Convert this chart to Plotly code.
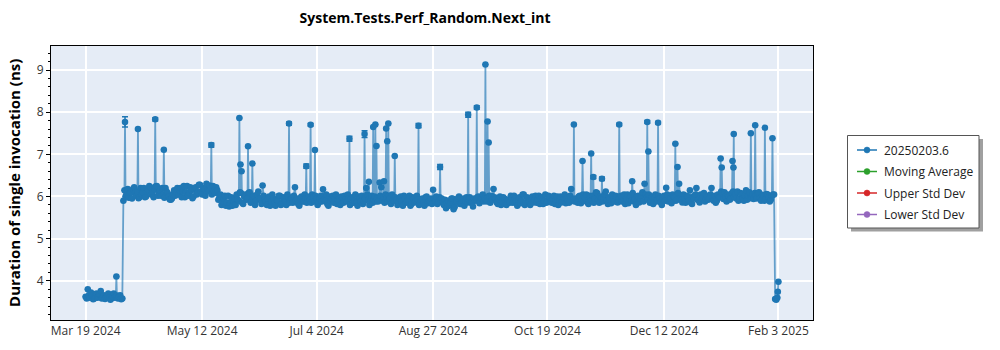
import pandas as pd
import plotly.graph_objects as go

# ---------------- data ----------------
start_date = "2024-03-19"
end_date = "2025-02-03"

# two runs per day: run A (midnight) and run B (noon)
a_mar = [3.62, 3.80, 3.60, 3.66, 3.58, 3.70, 3.62, 3.76, 3.60, 3.57, 3.64, 3.60, 3.58]
b_mar = [3.58, 3.65, 3.72, 3.56, 3.64, 3.60, 3.68, 3.58, 3.66, 3.62, 3.70, 3.55, 3.63]
a_apr = [3.70, 3.62, 3.58, 3.66, 3.58, 6.15, 6.05, 5.97, 6.10, 6.18, 6.08, 6.12, 5.98, 6.05, 6.20,
         6.00, 6.15, 6.22, 6.10, 6.18, 6.25, 6.10, 6.02, 6.05, 6.20, 6.08, 5.93, 5.95, 6.15, 6.10]
b_apr = [3.60, 3.65, 3.62, 3.56, 5.90, 6.00, 6.18, 6.08, 5.95, 6.22, 6.02, 5.96, 6.20, 6.10, 5.98,
         6.12, 6.25, 6.05, 5.98, 6.24, 6.02, 6.15, 6.20, 5.97, 6.12, 6.00, 5.92, 6.05, 6.02, 6.20]
a_may = [6.05, 6.20, 6.12, 5.98, 6.25, 6.08, 6.15, 6.00, 6.22, 6.10, 6.28, 6.05, 6.18, 6.30, 6.12,
         6.20, 6.25, 6.08, 6.15, 5.98, 5.80, 5.95, 5.78, 6.02, 5.85, 5.78, 5.95, 6.05, 5.90, 6.08, 5.82]
b_may = [6.15, 5.98, 6.25, 6.10, 6.02, 6.22, 5.96, 6.18, 6.05, 6.28, 6.12, 6.20, 6.02, 6.15, 6.26,
         6.05, 6.12, 6.22, 5.92, 6.05, 5.88, 6.02, 5.85, 5.76, 5.98, 5.90, 5.80, 5.92, 6.10, 5.85, 6.00]
a_jun = [6.05, 5.95, 6.10, 5.88, 6.02, 5.90, 6.12, 5.95, 6.26, 5.92, 5.80, 6.00, 5.88, 5.95, 5.78,
         5.90, 6.02, 5.85, 5.95, 5.80, 5.98, 5.92, 5.85, 6.22, 5.95, 5.78, 6.00, 5.88, 5.96, 5.95]
b_jun = [5.92, 6.08, 5.85, 6.00, 5.80, 6.05, 5.95, 5.82, 6.02, 5.88, 5.95, 5.78, 6.05, 5.85, 5.92,
         6.02, 5.80, 5.98, 5.88, 6.05, 5.85, 5.95, 6.02, 5.90, 5.82, 5.96, 5.88, 6.05, 5.85, 6.00]
a_jul = [5.92, 6.05, 5.88, 5.95, 5.85, 6.02, 6.17, 5.90, 5.82, 6.00, 5.95, 5.85, 6.05, 5.92, 5.80,
         5.98, 6.02, 5.88, 5.96, 5.95, 5.85, 6.05, 5.78, 5.95, 6.02, 5.88, 6.20, 5.92, 5.90, 5.85, 6.00]
b_jul = [5.85, 5.98, 6.02, 5.80, 5.95, 5.88, 5.92, 6.05, 5.78, 5.90, 6.02, 5.96, 5.82, 5.88, 6.00,
         5.85, 5.92, 6.05, 5.80, 5.98, 5.90, 5.85, 6.00, 5.88, 5.82, 5.95, 6.05, 5.80, 6.02, 5.92, 5.88]
a_aug = [5.95, 5.92, 6.22, 5.98, 6.05, 5.88, 5.95, 6.05, 5.90, 5.92, 5.85, 6.00, 5.78, 5.95, 5.88,
         6.02, 5.82, 5.95, 5.90, 5.92, 5.85, 5.95, 5.78, 6.00, 5.88, 5.95, 6.16, 5.90, 5.82, 5.98, 5.95]
b_aug = [5.88, 6.02, 5.90, 5.85, 5.96, 6.02, 5.82, 5.92, 5.98, 5.80, 5.95, 5.88, 6.02, 5.85, 5.92,
         5.78, 5.98, 5.86, 6.02, 5.80, 5.92, 5.86, 5.98, 5.84, 5.90, 5.82, 5.95, 6.00, 5.88, 5.92, 5.85]
a_sep = [5.80, 5.72, 5.90, 5.85, 5.95, 5.75, 5.88, 6.00, 5.82, 5.95, 5.90, 5.86, 5.98, 5.85, 5.95,
         5.92, 6.00, 5.90, 6.05, 5.96, 5.88, 6.02, 6.02, 6.18, 5.95, 5.82, 6.00, 5.88, 5.95, 5.80]
b_sep = [5.92, 5.86, 5.78, 5.95, 5.70, 5.88, 5.96, 5.82, 5.90, 5.78, 5.98, 5.92, 5.85, 5.76, 5.90,
         5.98, 5.84, 5.95, 5.88, 5.92, 6.00, 5.85, 5.92, 5.98, 5.86, 5.94, 5.80, 5.98, 5.85, 5.92]
a_oct = [5.92, 6.02, 5.85, 5.95, 5.78, 5.98, 5.90, 6.05, 5.85, 5.95, 5.80, 6.00, 5.92, 5.85, 6.02,
         5.95, 5.82, 6.05, 5.90, 5.98, 5.85, 6.02, 5.92, 5.80, 6.00, 5.88, 6.05, 5.95, 5.85, 6.18, 5.92]
b_oct = [5.85, 5.96, 6.02, 5.88, 5.92, 5.84, 6.05, 5.80, 5.98, 5.88, 5.95, 5.86, 6.02, 5.92, 5.82,
         5.98, 5.90, 5.85, 6.02, 5.88, 5.95, 5.82, 6.00, 5.92, 5.86, 5.98, 5.84, 5.90, 6.02, 5.95, 5.88]
a_nov = [5.95, 5.85, 6.02, 5.92, 5.90, 6.05, 5.82, 5.98, 6.02, 5.95, 6.08, 5.85, 5.96, 5.98, 6.12,
         5.82, 5.95, 6.05, 5.88, 6.00, 5.92, 6.02, 5.90, 5.82, 6.05, 5.95, 5.90, 5.88, 5.80, 6.02]
b_nov = [5.88, 6.00, 5.84, 6.05, 5.96, 5.86, 6.02, 5.90, 5.85, 6.10, 5.92, 6.00, 5.88, 6.05, 5.90,
         5.98, 5.84, 5.92, 6.02, 5.86, 5.98, 5.88, 6.05, 5.95, 5.84, 6.00, 6.08, 5.94, 6.00, 5.86]
a_dec = [5.95, 6.10, 6.30, 5.98, 6.05, 5.90, 5.82, 6.05, 5.92, 5.95, 5.80, 6.02, 6.21, 5.88, 5.95,
         6.05, 5.98, 5.92, 6.30, 5.92, 6.05, 5.85, 6.00, 6.15, 5.82, 5.95, 6.20, 5.92, 6.05, 5.98, 5.88]
b_dec = [6.02, 5.88, 6.05, 5.92, 5.85, 6.00, 5.95, 5.88, 6.02, 5.86, 5.98, 5.90, 6.05, 5.95, 5.84,
         6.00, 5.90, 6.08, 5.96, 5.86, 5.94, 6.02, 5.90, 5.85, 6.00, 6.05, 5.92, 5.86, 5.96, 6.08, 5.95]
a_jan = [6.02, 5.95, 6.20, 5.90, 5.85, 6.05, 5.98, 6.08, 6.10, 5.88, 6.00, 5.95, 6.12, 6.05, 6.12,
         5.95, 6.05, 5.90, 6.15, 6.02, 5.96, 6.05, 6.08, 5.95, 6.10, 5.90, 6.00, 5.94, 6.05, 5.88, 6.02]
b_jan = [5.92, 6.05, 5.96, 6.02, 5.90, 5.98, 6.12, 5.94, 6.00, 6.05, 5.92, 6.08, 6.00, 5.95, 5.90,
         6.08, 5.96, 6.02, 5.92, 6.10, 6.00, 5.94, 6.02, 6.08, 5.96, 6.04, 5.90, 6.06, 5.98, 5.92, 6.05]
a_feb = [6.05, 3.55, 3.98]
b_feb = [3.57, 3.60]

# extra runs (outliers between the regular runs)
extra_dates = [
    "2024-04-02 06:00", "2024-04-06 06:00", "2024-04-12 06:00", "2024-04-20 06:00", "2024-04-24 06:00",
    "2024-05-16 06:00", "2024-05-29 06:00", "2024-05-29 18:00", "2024-05-30 06:00", "2024-06-02 06:00",
    "2024-06-04 06:00", "2024-06-21 06:00", "2024-06-29 06:00", "2024-07-01 06:00", "2024-07-03 06:00",
    "2024-07-19 06:00", "2024-07-26 06:00", "2024-07-28 06:00", "2024-07-30 06:00", "2024-07-31 06:00",
    "2024-07-31 18:00", "2024-08-02 06:00", "2024-08-04 06:00", "2024-08-05 06:00", "2024-08-05 18:00",
    "2024-08-06 06:00", "2024-08-09 06:00", "2024-08-20 06:00", "2024-08-30 06:00", "2024-09-12 06:00",
    "2024-09-16 06:00", "2024-09-20 06:00", "2024-09-21 06:00", "2024-09-21 18:00", "2024-10-31 06:00",
    "2024-11-04 06:00", "2024-11-08 06:00", "2024-11-09 06:00", "2024-11-13 06:00", "2024-11-21 06:00",
    "2024-11-27 06:00", "2024-12-04 06:00", "2024-12-04 18:00", "2024-12-09 06:00", "2024-12-17 06:00",
    "2024-12-18 06:00", "2025-01-07 06:00", "2025-01-07 18:00", "2025-01-12 18:00", "2025-01-13 04:00",
    "2025-01-13 08:00", "2025-01-21 06:00", "2025-01-23 06:00", "2025-01-27 18:00", "2025-01-31 06:00",
    "2025-02-02 18:00",
]
extra_values = [
    4.10, 7.77, 7.60, 7.83, 7.11,
    7.22, 7.86, 6.76, 6.60, 7.19,
    6.78, 7.73, 6.72, 7.70, 7.10,
    7.37, 7.48, 6.35, 7.65, 7.71,
    7.20, 6.33, 6.36, 7.61, 7.31,
    7.73, 6.96, 7.68, 6.70, 7.94,
    8.11, 9.13, 7.78, 7.28, 7.71,
    6.84, 7.02, 6.46, 6.42, 7.71,
    6.36, 7.77, 7.07, 7.75, 7.25,
    6.70, 6.90, 6.69, 6.84, 6.69,
    7.48, 7.50, 7.69, 7.63, 7.38,
    3.74,
]

# error bars on the runs that show them
err_dates = ["2024-04-06 06:00", "2024-04-20 06:00", "2024-05-16 06:00", "2024-06-21 06:00",
             "2024-06-29 06:00", "2024-07-01 06:00", "2024-07-19 06:00", "2024-07-26 06:00",
             "2024-08-20 06:00", "2024-08-30 06:00", "2024-09-12 06:00", "2024-09-16 06:00",
             "2024-11-09 06:00", "2024-11-13 06:00", "2024-11-21 06:00", "2024-12-04 06:00",
             "2024-12-09 06:00"]
err_values = [0.12, 0.04, 0.05, 0.04, 0.05, 0.03, 0.06, 0.08, 0.05, 0.06, 0.06, 0.04,
              0.04, 0.04, 0.03, 0.03, 0.03]

tick_dates = ["2024-03-19", "2024-05-12", "2024-07-04", "2024-08-27", "2024-10-19", "2024-12-12", "2025-02-03"]
tick_labels = ["Mar 19 2024", "May 12 2024", "Jul 4 2024", "Aug 27 2024", "Oct 19 2024", "Dec 12 2024", "Feb 3 2025"]

series_name = "20250203.6"
legend_names = ["20250203.6", "Moving Average", "Upper Std Dev", "Lower Std Dev"]
legend_colors = ["#1f77b4", "#2ca02c", "#d62728", "#9467bd"]

# ---------------- build ----------------
a_vals = a_mar + a_apr + a_may + a_jun + a_jul + a_aug + a_sep + a_oct + a_nov + a_dec + a_jan + a_feb
b_vals = b_mar + b_apr + b_may + b_jun + b_jul + b_aug + b_sep + b_oct + b_nov + b_dec + b_jan + b_feb
a_dates = pd.date_range(start_date, end_date, freq="D")
b_dates = pd.date_range(start_date, end_date, freq="D")[:-1] + pd.Timedelta(hours=12)

df = pd.concat([
    pd.DataFrame({"x": a_dates, "y": a_vals}),
    pd.DataFrame({"x": b_dates, "y": b_vals}),
    pd.DataFrame({"x": pd.to_datetime(extra_dates), "y": extra_values}),
]).sort_values("x").reset_index(drop=True)
err_map = dict(zip(pd.to_datetime(err_dates), err_values))
df["e"] = [err_map.get(d, None) for d in df["x"]]

BLUE = "#1f77b4"
FONT = "Open Sans"

# plot area in pixels (for placing the hand-built legend box)
PL, PR, PT, PB = 51, 813, 46, 320


def px(x):
    return (x - PL) / (PR - PL)


def py(y):
    return (PB - y) / (PB - PT)


fig = go.Figure()
fig.add_trace(go.Scatter(
    x=df["x"], y=df["y"], mode="lines+markers", name=series_name, showlegend=False,
    line=dict(color="rgba(31,119,180,0.65)", width=1.8),
    marker=dict(color=BLUE, size=6.5),
    error_y=dict(type="data", array=df["e"].tolist(), color=BLUE, thickness=1.5, width=3, visible=True),
))

# legend box (drawn by hand to match the reference layout)
fig.add_shape(type="rect", xref="paper", yref="paper", x0=px(851), x1=px(983), y0=py(231.5), y1=py(139),
              fillcolor="#a0a0a0", line=dict(width=0), layer="above")
fig.add_shape(type="rect", xref="paper", yref="paper", x0=px(847.5), x1=px(979), y0=py(228), y1=py(135.5),
              fillcolor="white", line=dict(color="#555", width=1), layer="above")
item_y = [150, 171.5, 193, 214.5]
for name, color, yy in zip(legend_names, legend_colors, item_y):
    fig.add_shape(type="line", xref="paper", yref="paper", x0=px(857), x1=px(877), y0=py(yy), y1=py(yy),
                  line=dict(color=color, width=1.5), layer="above")
    fig.add_shape(type="circle", xref="paper", yref="paper", x0=px(864), x1=px(870),
                  y0=py(yy + 3), y1=py(yy - 3), fillcolor=color, line=dict(color=color, width=0.5),
                  layer="above")
    fig.add_annotation(text=name, xref="paper", yref="paper", x=px(882), y=py(yy), xanchor="left",
                       yanchor="middle", showarrow=False, font=dict(size=12, color="#222"))

fig.update_layout(
    width=1000, height=350,
    margin=dict(l=PL, r=1000 - PR, t=PT, b=350 - PB),
    paper_bgcolor="white", plot_bgcolor="#E5ECF6",
    font=dict(family=FONT, size=12, color="#333"),
    title=dict(text="<b>System.Tests.Perf_Random.Next_int</b>", x=0.425, xanchor="center",
               y=0.948, yanchor="middle", font=dict(size=14, color="black")),
    showlegend=False,
)
fig.update_xaxes(
    range=["2024-03-02 23:00", "2025-02-19 01:00"], tickvals=tick_dates, ticktext=tick_labels,
    showgrid=True, gridcolor="white", gridwidth=1.5, showline=True, linecolor="black", linewidth=1,
    mirror=True, ticks="", zeroline=False,
)
fig.update_yaxes(
    range=[3.07, 9.57], dtick=1, showgrid=True, gridcolor="white", gridwidth=1.5,
    showline=True, linecolor="black", linewidth=1, mirror=True, ticks="outside", ticklen=4,
    tickcolor="black", zeroline=False,
    minor=dict(dtick=0.2, ticks="outside", ticklen=2, tickcolor="black", showgrid=False),
)
fig.add_annotation(text="<b>Duration of single invocation (ns)</b>", textangle=-90,
                   xref="paper", yref="paper", x=-0.0486, y=0.5, xanchor="center", yanchor="middle",
                   showarrow=False, font=dict(size=15, color="black"))

fig.write_html("out.html")
